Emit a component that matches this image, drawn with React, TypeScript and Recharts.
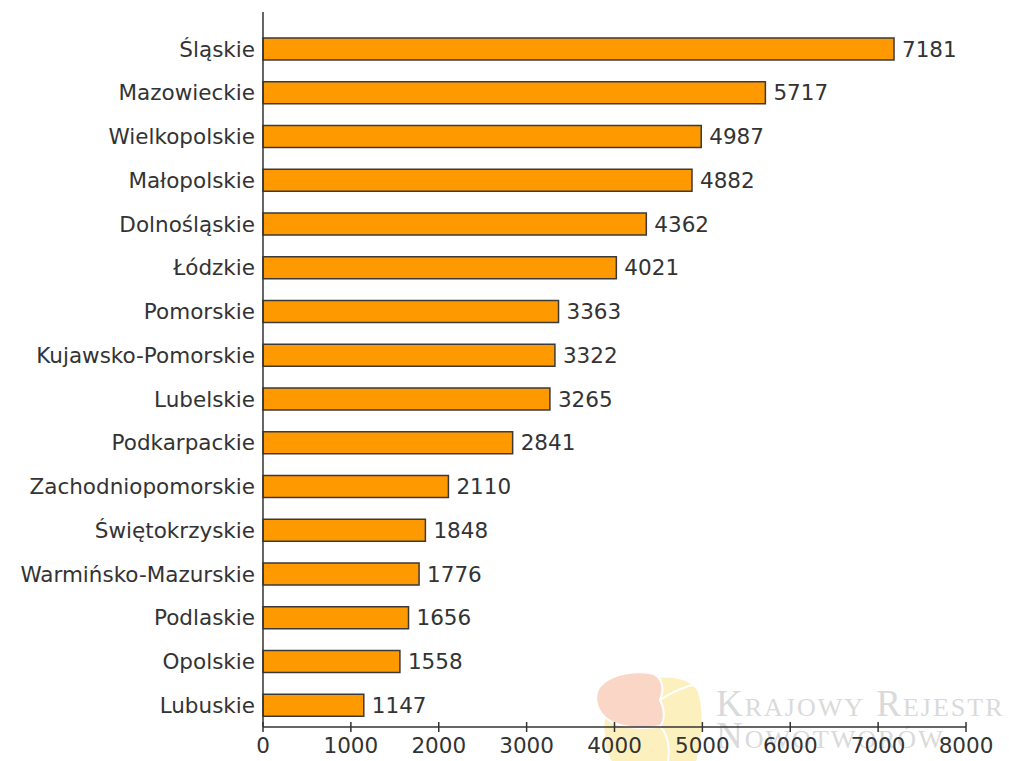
import { BarChart, Bar, XAxis, YAxis, LabelList } from 'recharts';

const REGIONS = [
  'Śląskie',
  'Mazowieckie',
  'Wielkopolskie',
  'Małopolskie',
  'Dolnośląskie',
  'Łódzkie',
  'Pomorskie',
  'Kujawsko-Pomorskie',
  'Lubelskie',
  'Podkarpackie',
  'Zachodniopomorskie',
  'Świętokrzyskie',
  'Warmińsko-Mazurskie',
  'Podlaskie',
  'Opolskie',
  'Lubuskie',
];

const CASES = [7181, 5717, 4987, 4882, 4362, 4021, 3363, 3322, 3265, 2841, 2110, 1848, 1776, 1656, 1558, 1147];

const X_TICKS = [0, 1000, 2000, 3000, 4000, 5000, 6000, 7000, 8000];

const data = REGIONS.map((name, i) => ({ name, value: CASES[i] }));

const FONT = '"DejaVu Sans", Verdana, sans-serif';
const INK = '#333333';

function XTick({ x, y, payload }: { x?: number; y?: number; payload?: { value: number } }) {
  return (
    <g>
      <line x1={x} x2={x} y1={(y ?? 0) - 5} y2={(y ?? 0) + 5} stroke={INK} strokeWidth={1.5} />
      <text x={x} y={(y ?? 0) + 26} textAnchor="middle" fill={INK} fontSize={21.5} fontFamily={FONT}>
        {payload?.value}
      </text>
    </g>
  );
}

// faint logo + name of the registry behind the plot
function Watermark() {
  const serif = '"Liberation Serif", serif';
  return (
    <svg width={1009} height={761} style={{ position: 'absolute', left: 0, top: 0, zIndex: 0 }}>
      <path
        d="M605 735 C602 712 612 690 640 682 C662 674 690 676 698 692 C704 712 702 740 696 761 L612 761 C606 752 606 744 605 735 Z"
        fill="#fdf0bf"
      />
      <path
        d="M597 692 C602 678 625 670 650 673 C664 676 664 690 660 700 C666 712 664 722 660 726 C645 730 625 728 612 722 C600 716 594 704 597 692 Z"
        fill="#f9d6c6"
        stroke="#fff"
        strokeWidth={2}
      />
      <path d="M660 700 C672 692 685 686 698 684" stroke="#fff" strokeWidth={2} fill="none" />
      <path d="M660 726 C668 735 670 748 668 761" stroke="#fff" strokeWidth={2} fill="none" />
      <text x={716} y={716} fill="#dadada" fontSize={37} fontFamily={serif} style={{ fontVariant: 'small-caps', letterSpacing: 2 }}>
        Krajowy Rejestr
      </text>
      <text x={716} y={748} fill="#dadada" fontSize={37} fontFamily={serif} style={{ fontVariant: 'small-caps', letterSpacing: 2 }}>
        Nowotworów
      </text>
    </svg>
  );
}

export default function App() {
  return (
    <div style={{ position: 'absolute', left: 0, top: 0, width: 1009, height: 761, background: '#fff' }}>
      <Watermark />
      <div style={{ position: 'absolute', left: 0, top: 0, zIndex: 1 }}>
        <BarChart
          width={1009}
          height={761}
          data={data}
          layout="vertical"
          margin={{ top: 12, right: 43, bottom: 0, left: 0 }}
          barCategoryGap="25%"
        >
          <XAxis
            type="number"
            domain={[0, 8000]}
            ticks={X_TICKS}
            interval={0}
            axisLine={{ stroke: INK, strokeWidth: 1.5 }}
            tickLine={false}
            tickSize={0}
            tickMargin={0}
            tick={<XTick />}
            height={34}
          />
          <YAxis
            type="category"
            dataKey="name"
            width={263}
            axisLine={{ stroke: INK, strokeWidth: 1.5 }}
            tickLine={false}
            tickSize={0}
            tickMargin={8}
            padding={{ top: 15, bottom: 0 }}
            tick={{ fill: INK, fontSize: 21.5, fontFamily: FONT }}
            interval={0}
          />
          <Bar dataKey="value" fill="#ff9900" stroke="#3a3a3a" strokeWidth={1.5} isAnimationActive={false}>
            <LabelList dataKey="value" position="right" offset={8} fill={INK} fontSize={21.5} fontFamily={FONT} />
          </Bar>
        </BarChart>
      </div>
    </div>
  );
}
